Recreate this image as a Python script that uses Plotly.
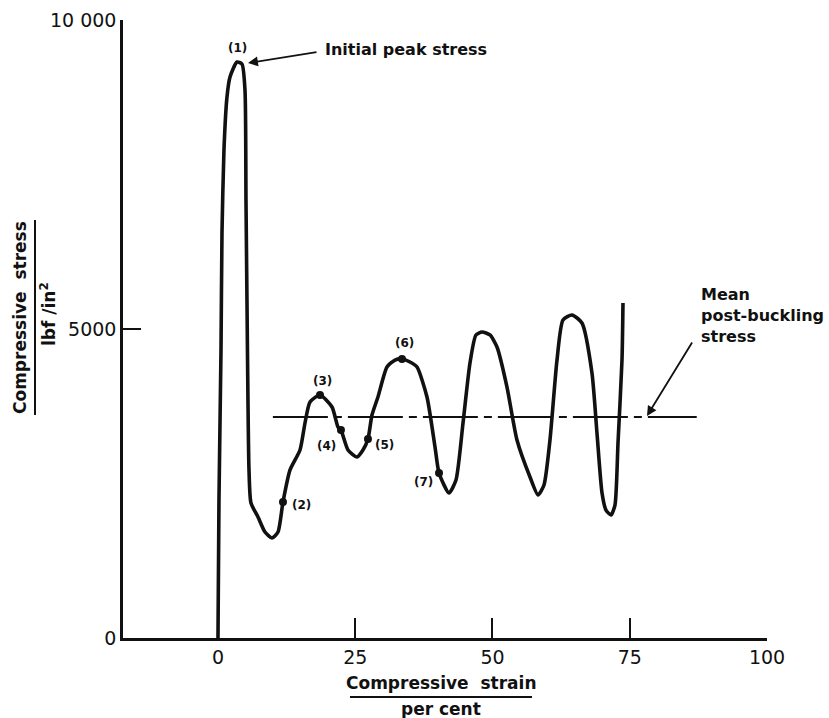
import plotly.graph_objects as go

# ---- data ----
strain = [0.0, 0.18, 0.55, 0.73, 1.09, 1.64, 2.19, 3.46, 4.37, 4.92, 5.10, 5.28, 5.46, 5.65,
          6.01, 7.29, 8.56, 9.84, 10.93, 11.84, 13.11, 14.94, 15.85, 16.76, 18.58, 20.77,
          21.86, 22.40, 23.68, 25.32, 26.41, 27.32, 28.05, 29.14, 30.78, 32.24, 33.52, 34.97,
          36.25, 38.07, 39.53, 40.26, 42.08, 43.35, 44.63, 45.90, 46.99, 48.09, 49.54, 50.82,
          52.64, 54.46, 56.83, 58.29, 59.38, 60.47, 61.75, 62.84, 64.48, 66.30, 68.12, 69.03,
          69.95, 70.67, 71.58, 72.31, 72.86, 73.59, 73.77]
stress = [0, 2233, 4660, 6553, 7896, 8754, 9078, 9320, 9288, 8867, 7087, 5469, 3851, 2718,
          2184, 1958, 1715, 1618, 1715, 2201, 2718, 3042, 3479, 3819, 3932, 3738,
          3414, 3366, 3042, 2929, 3042, 3220, 3608, 3900, 4385, 4498, 4515, 4466,
          4385, 3900, 3091, 2670, 2346, 2557, 3479, 4450, 4903, 4951, 4903, 4709,
          4061, 3204, 2605, 2314, 2476, 3204, 4498, 5146, 5227, 5097, 4288, 3317,
          2346, 2071, 1990, 2152, 3155, 4498, 5421]

point_labels = ["(1)", "(2)", "(3)", "(4)", "(5)", "(6)", "(7)"]
point_strain = [3.46, 11.84, 18.58, 22.40, 27.32, 33.52, 40.26]
point_stress = [9320, 2201, 3932, 3366, 3220, 4515, 2670]
point_marked = [False, True, True, True, True, True, True]

mean_stress = 3576
mean_strain_range = [10.0, 87.2]

x_tickvals = [0, 25, 50, 75, 100]
x_ticktext = ["0", "25", "50", "75", "100"]
y_tickvals = [0, 5000, 10000]
y_ticktext = ["0", "5000", "10 000"]

# ---- layout helpers ----
W, H = 829, 718
L, R, T, B = 123, 62, 20, 80
PW, PH = W - L - R, H - T - B


def px(x):
    return (x - L) / PW


def py(y):
    return (H - B - y) / PH


FONT = "DejaVu Sans"
BLACK = "#111111"

fig = go.Figure()

# mean post-buckling stress (chain line)
fig.add_trace(go.Scatter(
    x=mean_strain_range, y=[mean_stress, mean_stress], mode="lines",
    line=dict(color=BLACK, width=2.2, dash="55px,6px,8px,6px"),
    hoverinfo="skip", showlegend=False))

# stress-strain curve
fig.add_trace(go.Scatter(
    x=strain, y=stress, mode="lines",
    line=dict(color=BLACK, width=3.6, shape="spline", smoothing=0.6),
    showlegend=False))

# marked points
mx = [s for s, m in zip(point_strain, point_marked) if m]
my = [s for s, m in zip(point_stress, point_marked) if m]
fig.add_trace(go.Scatter(
    x=mx, y=my, mode="markers",
    marker=dict(color=BLACK, size=8), showlegend=False))

label_shift = [(1, 14), (19, -3), (3, 14), (-14, -16), (17, -6), (2, 16), (-16, -9)]
annotations = []
for lab, xv, yv, (dx, dy) in zip(point_labels, point_strain, point_stress, label_shift):
    annotations.append(dict(x=xv, y=yv, xref="x", yref="y", text=f"<b>{lab}</b>",
                            showarrow=False, xshift=dx, yshift=dy,
                            xanchor="center", yanchor="middle",
                            font=dict(family=FONT, size=12, color=BLACK)))


def note(x, y, text, size, angle=0, xanchor="center", yanchor="middle", align="center"):
    return dict(x=px(x), y=py(y), xref="paper", yref="paper", text=text, showarrow=False,
                textangle=angle, xanchor=xanchor, yanchor=yanchor, align=align,
                font=dict(family=FONT, size=size, color=BLACK))


def arrow(x_head, y_head, x_tail, y_tail):
    return dict(x=px(x_head), y=py(y_head), xref="paper", yref="paper", text="",
                showarrow=True, ax=x_tail - x_head, ay=y_tail - y_head,
                arrowhead=2, arrowsize=1.1, arrowwidth=1.8, arrowcolor=BLACK)


# Initial peak stress
annotations.append(note(323, 50, "<b>Initial peak stress</b>", 16, xanchor="left"))
annotations.append(arrow(248, 63, 318, 52))

# Mean post-buckling stress
annotations.append(note(699, 283, "<b>Mean<br>post-buckling<br>stress</b>", 16,
                        xanchor="left", yanchor="top", align="left"))
annotations.append(arrow(647, 416, 693, 341))

# y axis title (fraction)
annotations.append(note(20, 318, "<b>Compressive  stress</b>", 17, angle=-90))
annotations.append(note(48, 314, "<b>lbf /in<sup>2</sup></b>", 17, angle=-90))
# x axis title (fraction)
annotations.append(note(441, 683, "<b>Compressive  strain</b>", 17))
annotations.append(note(441, 709, "<b>per cent</b>", 17))

shapes = [
    dict(type="line", xref="paper", yref="paper", x0=px(35), x1=px(35), y0=py(220), y1=py(415),
         line=dict(color=BLACK, width=2)),
    dict(type="line", xref="paper", yref="paper", x0=px(350), x1=px(532), y0=py(697), y1=py(697),
         line=dict(color=BLACK, width=2)),
]

fig.update_layout(
    width=W, height=H, margin=dict(l=L, r=R, t=T, b=B, autoexpand=False),
    paper_bgcolor="white", plot_bgcolor="white",
    annotations=annotations, shapes=shapes,
    font=dict(family=FONT, color=BLACK),
    xaxis=dict(range=[-17.3, 100], tickvals=x_tickvals, ticktext=x_ticktext,
               ticks="inside", ticklen=20, tickwidth=2, tickcolor=BLACK,
               showline=True, linewidth=2.5, linecolor=BLACK, showgrid=False, zeroline=False,
               tickfont=dict(family=FONT, size=19, color=BLACK)),
    yaxis=dict(range=[0, 10000], tickvals=y_tickvals, ticktext=y_ticktext,
               ticks="inside", ticklen=18, tickwidth=2, tickcolor=BLACK,
               showline=True, linewidth=2.5, linecolor=BLACK, showgrid=False, zeroline=False,
               tickfont=dict(family=FONT, size=19, color=BLACK)),
)

fig.write_html("out.html")
